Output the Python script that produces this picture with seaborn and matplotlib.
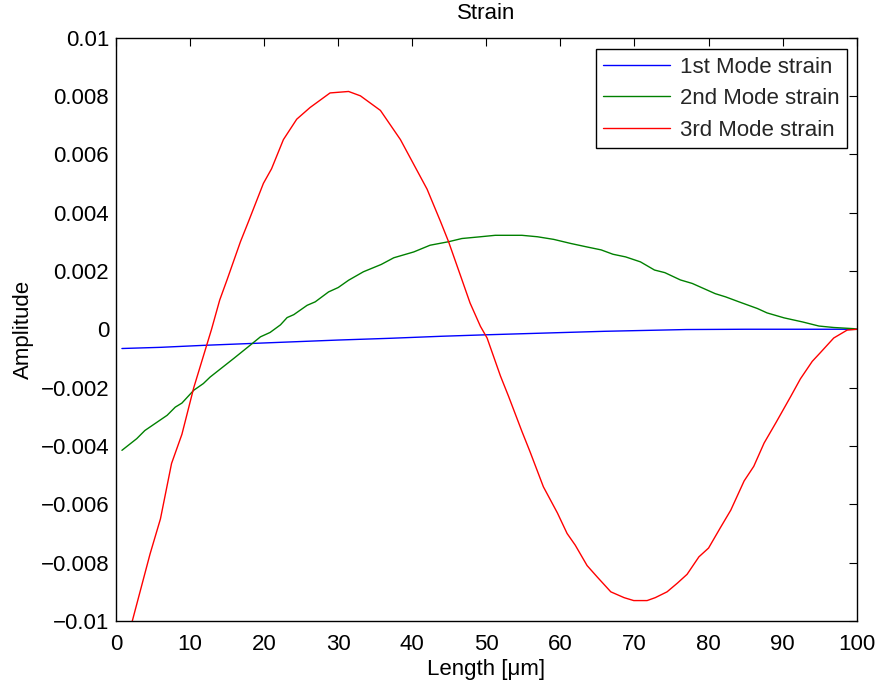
import matplotlib
matplotlib.use("Agg")
import matplotlib.pyplot as plt
import seaborn as sns
import pandas as pd

# ---- data ----
mode1_x = [0.8, 6, 12, 18, 24, 30, 37, 44, 50, 58, 66, 77, 85, 100]
mode1_y = [-0.00066, -0.00062, -0.00055, -0.00049, -0.00043, -0.00037, -0.00031,
           -0.00024, -0.00019, -0.00013, -0.00007, -0.00001, 0.0, 0.0]

mode2_x = [0.8, 2.8, 3.9, 6.9, 8.0, 8.9, 10.5, 11.8, 12.7, 15.9, 18.1, 19.5, 20.8,
           22.2, 23.1, 24.0, 25.8, 26.9, 28.7, 30.0, 31.4, 33.4, 35.8, 37.5, 40.2,
           42.4, 44.9, 46.7, 49.2, 51.2, 54.8, 56.9, 59.1, 61.4, 63.6, 65.5, 67.1,
           68.8, 70.8, 72.7, 74.1, 76.2, 77.8, 80.9, 82.3, 84.1, 86.6, 87.9, 90.2,
           92.7, 94.9, 96.9, 99.6, 100]
mode2_y = [-0.00415, -0.00375, -0.00347, -0.00295, -0.00267, -0.00253, -0.00209,
           -0.00186, -0.00164, -0.00100, -0.00055, -0.00026, -0.00011, 0.00015,
           0.00040, 0.00050, 0.00082, 0.00094, 0.00128, 0.00143, 0.00168, 0.00197,
           0.00222, 0.00245, 0.00265, 0.00288, 0.00300, 0.00311, 0.00317, 0.00322,
           0.00322, 0.00317, 0.00308, 0.00294, 0.00282, 0.00272, 0.00257, 0.00248,
           0.00231, 0.00203, 0.00194, 0.00169, 0.00157, 0.00122, 0.00111, 0.00094,
           0.00071, 0.00056, 0.00039, 0.00025, 0.00011, 0.00006, 0.00002, 0.0]

mode3_x = [0.8, 2.2, 4.6, 6.0, 7.5, 8.9, 10.5, 12.3, 12.9, 14.0, 15.0, 16.8, 17.9,
           19.9, 21.0, 22.6, 24.4, 26.2, 28.9, 31.4, 33.0, 35.7, 38.4, 42.0, 43.8,
           44.9, 46.7, 47.8, 49.2, 50.1, 51.9, 53.0, 54.8, 55.9, 57.7, 59.6, 60.9,
           62.0, 63.6, 65.0, 66.8, 68.6, 69.9, 71.7, 72.8, 74.4, 75.8, 77.1, 78.7,
           80.0, 81.6, 83.0, 84.8, 86.1, 87.5, 89.1, 91.1, 92.4, 94.0, 95.1, 96.9,
           98.7, 100]
mode3_y = [-0.0113, -0.0100, -0.0077, -0.0065, -0.0046, -0.0036, -0.0020, -0.0005,
           0.0000, 0.0010, 0.0017, 0.0030, 0.0037, 0.0050, 0.0055, 0.0065, 0.0072,
           0.0076, 0.0081, 0.00815, 0.0080, 0.0075, 0.0065, 0.0048, 0.0037, 0.0030,
           0.0017, 0.0009, 0.0001, -0.0003, -0.0016, -0.0023, -0.0035, -0.0042,
           -0.0054, -0.0063, -0.0070, -0.0074, -0.0081, -0.0085, -0.0090, -0.0092,
           -0.0093, -0.0093, -0.0092, -0.0090, -0.0087, -0.0084, -0.0078, -0.0075,
           -0.0068, -0.0062, -0.0052, -0.0047, -0.0039, -0.0032, -0.0023, -0.0017,
           -0.0011, -0.0008, -0.0003, -0.00003, 0.0]

labels = ["1st Mode strain", "2nd Mode strain", "3rd Mode strain"]
colors = ["#0000ff", "#008000", "#ff0000"]

x_ticks = [0, 10, 20, 30, 40, 50, 60, 70, 80, 90, 100]
y_ticks = [-0.01, -0.008, -0.006, -0.004, -0.002, 0, 0.002, 0.004, 0.006, 0.008, 0.01]
y_ticklabels = ["\u22120.01", "\u22120.008", "\u22120.006", "\u22120.004", "\u22120.002",
                "0", "0.002", "0.004", "0.006", "0.008", "0.01"]

# ---- build long table ----
frames = []
for lab, xs, ys in zip(labels, [mode1_x, mode2_x, mode3_x], [mode1_y, mode2_y, mode3_y]):
    frames.append(pd.DataFrame({"x": xs, "y": ys, "series": lab}))
df = pd.concat(frames, ignore_index=True)

sns.set_theme(style="white")
plt.rcParams["font.family"] = ["Liberation Sans", "DejaVu Sans"]

fig = plt.figure(figsize=(8.81, 6.88), dpi=100)
ax = fig.add_axes([116 / 881, 1 - 621 / 688, (856.7 - 116) / 881, (621 - 37.5) / 688])

sns.lineplot(data=df, x="x", y="y", hue="series", palette=dict(zip(labels, colors)),
             hue_order=labels, sort=False, estimator=None, linewidth=1.0, ax=ax)

ax.set_xlim(0, 100)
ax.set_ylim(-0.01, 0.01)
ax.set_xticks(x_ticks)
ax.set_xticklabels([str(t) for t in x_ticks])
ax.set_yticks(y_ticks)
ax.set_yticklabels(y_ticklabels)

fs = 16
ax.tick_params(direction="in", length=6, width=0.8, top=True, right=True,
               labelsize=fs, colors="black", pad=5)
ax.tick_params(axis="x", pad=9)
for sp in ax.spines.values():
    sp.set_visible(True)
    sp.set_color("black")
    sp.set_linewidth(1.0)

ax.set_xlabel("Length [\u03bcm]", fontsize=fs, color="black", labelpad=3)
ax.set_ylabel("Amplitude", fontsize=fs, color="black", labelpad=4.5)
ax.set_title("Strain", fontsize=fs, color="black", pad=13.5)

leg = ax.legend(loc="upper right", bbox_to_anchor=(0.987, 0.980), borderaxespad=0,
                fontsize=fs, frameon=True, fancybox=False, framealpha=1,
                edgecolor="black", handlelength=3.0, handletextpad=0.45,
                labelspacing=0.48, borderpad=0.33)
leg.get_frame().set_linewidth(1.0)

fig.savefig("out.png", dpi=100, facecolor="white")
